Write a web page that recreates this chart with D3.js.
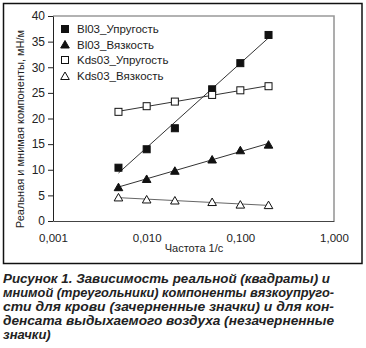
<!DOCTYPE html>
<html><head><meta charset="utf-8">
<script src="https://cdn.jsdelivr.net/npm/d3@7"></script>
<style>body{margin:0;background:#fff}svg{display:block}</style>
</head><body>
<svg id="c" width="366" height="348"></svg>
<script>
const freqs = [0.005, 0.01, 0.02, 0.05, 0.1, 0.2];
const bl03Elastic = [10.4, 14.0, 18.1, 25.7, 30.8, 36.3];
const bl03Viscous = [6.6, 8.2, 9.8, 12.0, 13.8, 14.9];
const kds03Elastic = [21.3, 22.4, 23.3, 24.6, 25.5, 26.3];
const kds03Viscous = [4.6, 4.2, 4.0, 3.7, 3.2, 3.1];
const seriesNames = ["Bl03_Упругость", "Bl03_Вязкость", "Kds03_Упругость", "Kds03_Вязкость"];
const xTicks = [0.001, 0.01, 0.1, 1];
const xTickLabels = ["0,001", "0,010", "0,100", "1,000"];
const yTicks = [0, 5, 10, 15, 20, 25, 30, 35, 40];
const yTitle = "Реальная и мнимая компоненты, мН/м";
const xTitle = "Частота 1/с";
const caption = [
  "Рисунок 1. Зависимость реальной (квадраты) и",
  "мнимой (треугольники) компоненты вязкоупруго-",
  "сти для крови (зачерненные значки) и для кон-",
  "денсата выдыхаемого воздуха (незачерненные",
  "значки)"
];

const series = [
  {name: seriesNames[0], values: bl03Elastic, shape: "square", fill: "#111", line: "#333"},
  {name: seriesNames[1], values: bl03Viscous, shape: "triangle", fill: "#111", line: "#333"},
  {name: seriesNames[2], values: kds03Elastic, shape: "square", fill: "#fff", line: "#333"},
  {name: seriesNames[3], values: kds03Viscous, shape: "triangle", fill: "#fff", line: "#666"}
];

const svg = d3.select("#c");
const FONT = "'Liberation Sans Narrow','Arial Narrow','Liberation Sans',Arial,sans-serif";
const L = 53, R = 334, T = 16, B = 221;
const x = d3.scaleLog().domain([0.001, 1]).range([L, R]);
const y = d3.scaleLinear().domain([0, 40]).range([B, T]);

// outer frame
svg.append("rect").attr("x", 3.5).attr("y", 3.5).attr("width", 358.5).attr("height", 260)
  .attr("fill", "none").attr("stroke", "#111").attr("stroke-width", 1.5);

// plot border (top/right gray)
svg.append("path").attr("d", `M${L},${T}H${R}V${B}`).attr("fill", "none")
  .attr("stroke", "#999").attr("stroke-width", 1.6);

// y axis
const yAxis = d3.axisLeft(y).tickValues(yTicks).tickSize(5).tickSizeOuter(0).tickFormat(d3.format("d"));
const gy = svg.append("g").attr("transform", `translate(${L},0)`).call(yAxis);
gy.select(".domain").attr("stroke", "#222");
gy.selectAll(".tick line").attr("stroke", "#222");
gy.selectAll("text").attr("font-family", FONT).attr("font-size", 12).attr("fill", "#222").attr("x", -8);

// x axis (labels only)
const xAxis = d3.axisBottom(x).tickValues(xTicks).tickSize(0).tickSizeOuter(0)
  .tickFormat((d, i) => xTickLabels[i]);
const gx = svg.append("g").attr("transform", `translate(0,${B})`).call(xAxis);
gx.select(".domain").attr("stroke", "#444");
gx.selectAll("text").attr("font-family", FONT).attr("font-size", 11.5).attr("fill", "#222").attr("dy", 0).attr("y", 21);

// titles
svg.append("text").attr("x", 194).attr("y", 252).attr("text-anchor", "middle")
  .attr("font-family", FONT).attr("font-size", 11).attr("fill", "#222").text(xTitle);
svg.append("text").attr("transform", "translate(24,129) rotate(-90)").attr("text-anchor", "middle")
  .attr("font-family", FONT).attr("font-size", 11).attr("fill", "#222").text(yTitle);

// trendlines (logarithmic least-squares fit)
function logFit(xs, ys) {
  const lx = xs.map(Math.log10);
  const mx = d3.mean(lx), my = d3.mean(ys);
  const sxy = d3.sum(lx, (v, i) => (v - mx) * (ys[i] - my));
  const sxx = d3.sum(lx, v => (v - mx) * (v - mx));
  const b = sxy / sxx, a = my - b * mx;
  return f => a + b * Math.log10(f);
}
const ext = d3.extent(freqs);
series.forEach(s => {
  const fit = logFit(freqs, s.values);
  svg.append("line").attr("x1", x(ext[0])).attr("y1", y(fit(ext[0])))
    .attr("x2", x(ext[1])).attr("y2", y(fit(ext[1])))
    .attr("stroke", s.line).attr("stroke-width", 1);
});

function marker(g, shape, fill, cx, cy) {
  if (shape === "square") {
    g.append("rect").attr("x", cx - 3.5).attr("y", cy - 3.5).attr("width", 7).attr("height", 7)
      .attr("fill", fill).attr("stroke", "#111").attr("stroke-width", 1);
  } else {
    g.append("path").attr("d", `M${cx},${cy - 4}L${cx + 4.3},${cy + 3.5}L${cx - 4.3},${cy + 3.5}Z`)
      .attr("fill", fill).attr("stroke", "#111").attr("stroke-width", 1);
  }
}
const gm = svg.append("g");
series.forEach(s => {
  freqs.forEach((f, i) => marker(gm, s.shape, s.fill, x(f), y(s.values[i])));
});

// legend
const legY = [29, 44.5, 60, 76];
series.forEach((s, i) => {
  marker(svg, s.shape, s.fill, 65, legY[i]);
  svg.append("text").attr("x", 77).attr("y", legY[i] + 4).attr("font-family", FONT)
    .attr("font-size", 11.5).attr("fill", "#222").text(s.name);
});

// caption
const capBase = [283, 297, 311, 325, 339];
caption.forEach((t, i) => {
  const tx = svg.append("text").attr("x", 3).attr("y", capBase[i])
    .attr("font-family", "'Liberation Sans',Arial,sans-serif").attr("font-size", 13)
    .attr("font-weight", "bold").attr("font-style", "italic").attr("fill", "#222").text(t);
  if (i < 4) tx.attr("textLength", i === 0 ? 327 : 331).attr("lengthAdjust", "spacingAndGlyphs");
});
</script>
</body></html>
